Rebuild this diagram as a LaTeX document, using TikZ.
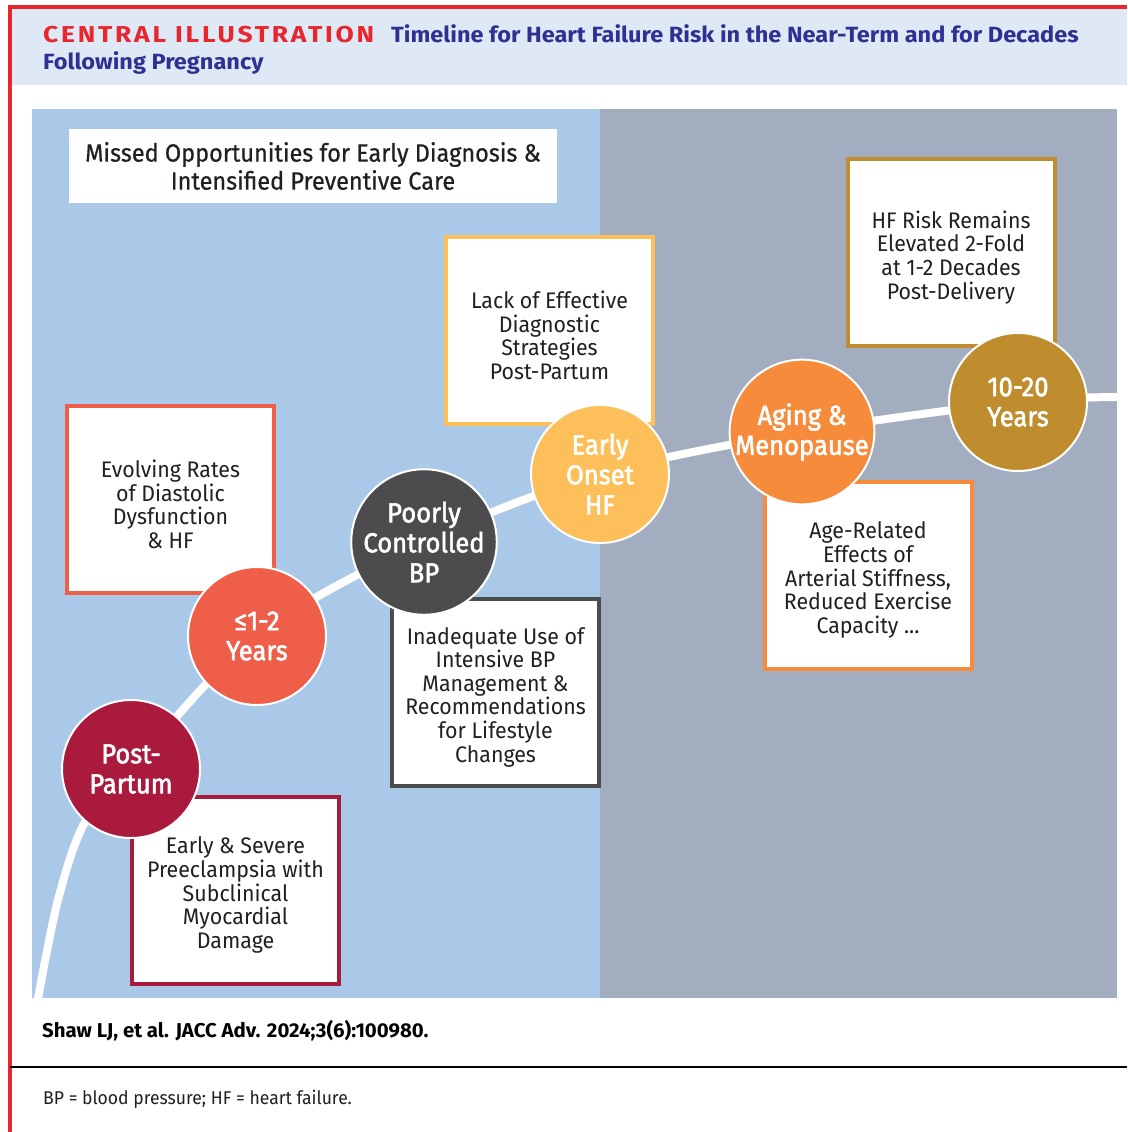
\documentclass[tikz,border=0pt]{standalone}
\usepackage{fontspec}
\setmainfont{Fira Sans}
\newfontfamily\boxfont[FakeStretch=0.95]{Fira Sans}
\newfontfamily\headboxfont[FakeStretch=0.94,FakeBold=0.6]{Fira Sans}
\newfontfamily\circfont[FakeStretch=0.93,FakeBold=2]{Fira Sans}
\newfontfamily\titlefont[FakeStretch=1.07]{Fira Sans}
\newfontfamily\redfont[FakeStretch=1.15,LetterSpace=12]{Fira Sans}
\newfontfamily\citefont[FakeStretch=1.02]{Fira Sans}
\definecolor{hdrblue}{HTML}{DEE9F5}
\definecolor{frame}{HTML}{E8262E}
\definecolor{titleblue}{HTML}{2E3192}
\definecolor{paneblue}{HTML}{AAC9E8}
\definecolor{panegray}{HTML}{A3ADC0}
\definecolor{txt}{HTML}{231F20}
\definecolor{crimson}{HTML}{A91A3D}
\definecolor{coral}{HTML}{EF5E48}
\definecolor{slate}{HTML}{4C4C4E}
\definecolor{sun}{HTML}{FCBF5A}
\definecolor{tangerine}{HTML}{F68B3C}
\definecolor{ochre}{HTML}{BF8C2E}
% strut that lowers the text block inside a box a little
\newcommand\topgap{\rule{0pt}{27pt}}
\tikzset{
  infobox/.style={draw=#1, line width=4pt, fill=white, minimum width=207pt,
    minimum height=187pt, inner sep=0pt, align=center, text=txt,
    font=\boxfont\fontsize{22.5}{23.6}\selectfont},
  stage/.style={circle, fill=#1, draw=white, line width=2pt, minimum size=138pt,
    inner sep=0pt, align=center, text=white,
    font=\circfont\fontsize{27.5}{30}\selectfont},
  timeline/.style={draw=white, line width=8pt},
}
\begin{document}
\begin{tikzpicture}[x=1pt,y=-1pt]
\useasboundingbox (0,0) rectangle (1127,1132);
\fill[white] (0,0) rectangle (1127,1132);

% header band and frame
\fill[hdrblue] (12,9) rectangle (1127,85);
\draw[frame, line width=3.5pt] (10,1132) -- (10,7) -- (1127,7);
\node[anchor=base west, inner sep=0pt, text=frame, font=\redfont\bfseries\fontsize{23}{26}\selectfont] (title1) at (43,43) {CENTRAL ILLUSTRATION};
\node[anchor=base west, inner sep=0pt, text=titleblue, font=\titlefont\bfseries\fontsize{22}{26}\selectfont] (title2) at (391,43) {Timeline for Heart Failure Risk in the Near-Term and for Decades};
\node[anchor=base west, inner sep=0pt, text=titleblue, font=\titlefont\bfseries\fontsize{22}{26}\selectfont] (title3) at (43,70) {Following Pregnancy};

% two panels
\fill[paneblue] (32,109) rectangle (600,998);
\fill[panegray] (600,109) rectangle (1117,998);

% stage positions
\coordinate (s0) at (37,1004);
\coordinate (s1) at (58,900);
\coordinate (s2) at (85,822);
\coordinate (c1) at (131,769);
\coordinate (c2) at (257,636);
\coordinate (c3) at (424,542);
\coordinate (c4) at (600,474);
\coordinate (c5) at (802,432);
\coordinate (c6) at (1018,402);
\coordinate (s9) at (1122,397);

% timeline curve
\begin{scope}
  \clip (32,109) rectangle (1117,998);
  \draw[timeline] plot[smooth, tension=0.55] coordinates {(s0) (s1) (s2) (c1) (c2) (c3) (c4) (c5) (c6) (s9)};
\end{scope}

% heading box
\node[fill=white, minimum width=488pt, minimum height=74pt, inner sep=0pt, align=center, text=txt,
  font=\headboxfont\fontsize{25}{28}\selectfont] (missed) at (313,166)
  {Missed Opportunities for Early Diagnosis \&\\Intensified Preventive Care};

% text boxes
\node[infobox=coral] (bEvolve) at (170.5,499.5) {\topgap Evolving Rates\\of Diastolic\\Dysfunction\\\& HF};
\node[infobox=crimson] (bSevere) at (235.5,890) {\topgap Early \& Severe\\Preeclampsia with\\Subclinical\\Myocardial\\Damage};
\node[infobox=sun] (bLack) at (549.5,330.5) {\topgap Lack of Effective\\Diagnostic\\Strategies\\Post-Partum};
\node[infobox=slate] (bBP) at (495.5,692) {\topgap Inadequate Use of\\Intensive BP\\Management \&\\Recommendations\\for Lifestyle\\Changes};
\node[infobox=ochre] (bRisk) at (951,252.5) {\topgap HF Risk Remains\\Elevated 2-Fold\\at 1-2 Decades\\Post-Delivery};
\node[infobox=tangerine] (bAge) at (868,575) {\topgap Age-Related\\Effects of\\Arterial Stiffness,\\Reduced Exercise\\Capacity ...};

% stage circles
\node[stage=crimson] (pp) at (c1) {Post-\\Partum};
\node[stage=coral] (yr) at (c2) {≤1-2\\Years};
\node[stage=slate] (bp) at (c3) {Poorly\\Controlled\\BP};
\node[stage=sun] (hf) at (c4) {Early\\Onset\\HF};
\node[stage=tangerine] (meno) at (c5) {Aging \&\\Menopause};
\node[stage=ochre] (dec) at (c6) {10-20\\Years};

% citation and footnote
\node[anchor=base west, inner sep=0pt, text=black, font=\citefont\bfseries\fontsize{20}{24}\selectfont] (cite) at (42,1037) {Shaw LJ, et al. JACC Adv. 2024;3(6):100980.};
\coordinate (ruleL) at (10,1067);
\coordinate (ruleR) at (1127,1067);
\draw[black, line width=1.5pt] (ruleL) -- (ruleR);
\node[anchor=base west, inner sep=0pt, text=txt, font=\boxfont\fontsize{18.5}{22}\selectfont] (foot) at (43,1104) {BP = blood pressure; HF = heart failure.};
\end{tikzpicture}
\end{document}
